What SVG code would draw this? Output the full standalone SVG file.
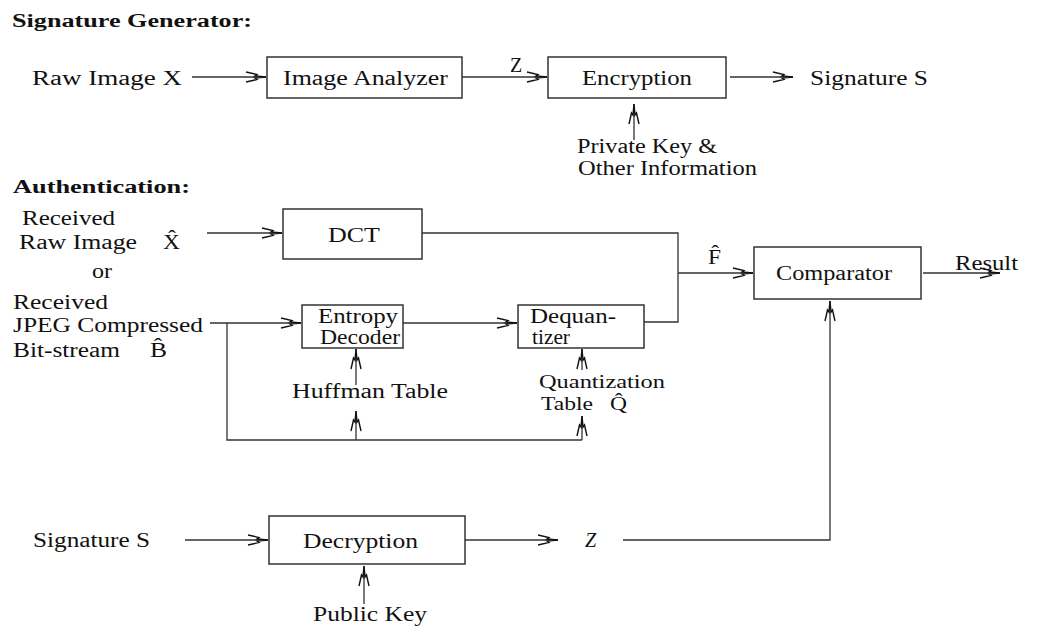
<svg xmlns="http://www.w3.org/2000/svg" width="1064" height="628" viewBox="0 0 1064 628">
<style>
text{font-family:"Liberation Serif","Times New Roman",serif;font-size:20px;fill:#111}
.t{font-weight:bold;font-size:18px}
.sm{font-size:18px}
.box{fill:none;stroke:#333;stroke-width:1.5}
.ln{fill:none;stroke:#333;stroke-width:1.3}
.ar{marker-end:url(#ah)}
</style>
<defs>
<marker id="ah" viewBox="-22 -7 24 14" refX="0" refY="0" markerWidth="24" markerHeight="14" markerUnits="userSpaceOnUse" orient="auto">
<path d="M-20,-5 L-9,-2.5 L-11,-1 L0,0 M-20,5 L-9,2.5 L-11,1 L0,0" fill="none" stroke="#111" stroke-width="1.4"/>
</marker>
</defs>
<rect width="1064" height="628" fill="#fff"/>

<g id="titles">
<text class="t" x="12" y="27" textLength="240" lengthAdjust="spacingAndGlyphs">Signature Generator:</text>
<text class="t" x="13" y="193" textLength="177" lengthAdjust="spacingAndGlyphs">Authentication:</text>
</g>

<g id="connectors">
<line class="ln ar" x1="192" y1="77" x2="266" y2="77"/>
<line class="ln ar" x1="462" y1="77" x2="547" y2="77"/>
<line class="ln ar" x1="730" y1="77" x2="793" y2="77"/>
<line class="ln ar" x1="634" y1="140" x2="634" y2="104"/>
<line class="ln ar" x1="207" y1="233" x2="282" y2="233"/>
<polyline class="ln" points="422,233 678,233 678,322 644,322"/>
<line class="ln ar" x1="678" y1="273" x2="753" y2="273"/>
<line class="ln ar" x1="923" y1="273" x2="1000" y2="273"/>
<line class="ln ar" x1="210" y1="323" x2="301" y2="323"/>
<line class="ln ar" x1="403" y1="323" x2="517" y2="323"/>
<polyline class="ln" points="227,323 227,440 582,440"/>
<line class="ln ar" x1="356" y1="440" x2="356" y2="411"/>
<line class="ln ar" x1="582" y1="440" x2="582" y2="416"/>
<line class="ln ar" x1="356" y1="385" x2="356" y2="349"/>
<line class="ln ar" x1="582" y1="370" x2="582" y2="349"/>
<line class="ln ar" x1="185" y1="540" x2="268" y2="540"/>
<line class="ln ar" x1="465" y1="540" x2="558" y2="540"/>
<polyline class="ln ar" points="623,540 830,540 830,301"/>
<line class="ln ar" x1="364" y1="604" x2="364" y2="566"/>
</g>

<g id="labels">
<text x="32" y="85" textLength="150" lengthAdjust="spacingAndGlyphs">Raw Image X</text>
<text x="510" y="72" font-size="17">Z</text>
<text x="810" y="85" textLength="118" lengthAdjust="spacingAndGlyphs">Signature S</text>
<text x="577" y="153" textLength="140" lengthAdjust="spacingAndGlyphs">Private Key &amp;</text>
<text x="578" y="175" textLength="179" lengthAdjust="spacingAndGlyphs">Other Information</text>
<text x="22" y="225" textLength="93" lengthAdjust="spacingAndGlyphs">Received</text>
<text x="19" y="249" textLength="118" lengthAdjust="spacingAndGlyphs">Raw Image</text>
<text x="163" y="249" textLength="17" lengthAdjust="spacingAndGlyphs">X̂</text>
<text x="92" y="278" textLength="20" lengthAdjust="spacingAndGlyphs">or</text>
<text x="13" y="309" textLength="95" lengthAdjust="spacingAndGlyphs">Received</text>
<text x="13" y="332" textLength="190" lengthAdjust="spacingAndGlyphs">JPEG Compressed</text>
<text x="13" y="357" textLength="107" lengthAdjust="spacingAndGlyphs">Bit-stream</text>
<text x="150" y="357" textLength="17" lengthAdjust="spacingAndGlyphs">B̂</text>
<text x="292" y="398" textLength="156" lengthAdjust="spacingAndGlyphs">Huffman Table</text>
<text class="sm" x="539" y="388" textLength="126" lengthAdjust="spacingAndGlyphs">Quantization</text>
<text class="sm" x="541" y="410" textLength="52" lengthAdjust="spacingAndGlyphs">Table</text>
<text class="sm" x="610" y="410" textLength="17" lengthAdjust="spacingAndGlyphs">Q̂</text>
<text x="708" y="264" textLength="13" lengthAdjust="spacingAndGlyphs">F̂</text>
<text x="955" y="270" textLength="63" lengthAdjust="spacingAndGlyphs">Result</text>
<text x="33" y="547" textLength="117" lengthAdjust="spacingAndGlyphs">Signature S</text>
<text x="585" y="547" font-style="italic" font-size="19">Z</text>
<text x="313" y="621" textLength="114" lengthAdjust="spacingAndGlyphs">Public Key</text>
</g>

<g id="image-analyzer">
<rect class="box" x="267" y="57" width="195" height="41"/>
<text x="283" y="85" textLength="165" lengthAdjust="spacingAndGlyphs">Image Analyzer</text>
</g>
<g id="encryption">
<rect class="box" x="548" y="57" width="178" height="41"/>
<text x="582" y="85" textLength="110" lengthAdjust="spacingAndGlyphs">Encryption</text>
</g>
<g id="dct">
<rect class="box" x="283" y="209" width="139" height="50"/>
<text x="328" y="242" textLength="52" lengthAdjust="spacingAndGlyphs">DCT</text>
</g>
<g id="entropy-decoder">
<rect class="box" x="302" y="305" width="101" height="43"/>
<text x="318" y="323" textLength="80" lengthAdjust="spacingAndGlyphs">Entropy</text>
<text x="320" y="344" textLength="80" lengthAdjust="spacingAndGlyphs">Decoder</text>
</g>
<g id="dequantizer">
<rect class="box" x="518" y="305" width="126" height="43"/>
<text x="530" y="323" textLength="86" lengthAdjust="spacingAndGlyphs">Dequan-</text>
<text x="532" y="344" textLength="38" lengthAdjust="spacingAndGlyphs">tizer</text>
</g>
<g id="comparator">
<rect class="box" x="754" y="247" width="167" height="52"/>
<text x="776" y="280" textLength="116" lengthAdjust="spacingAndGlyphs">Comparator</text>
</g>
<g id="decryption">
<rect class="box" x="269" y="516" width="196" height="48"/>
<text x="303" y="548" textLength="115" lengthAdjust="spacingAndGlyphs">Decryption</text>
</g>
</svg>
